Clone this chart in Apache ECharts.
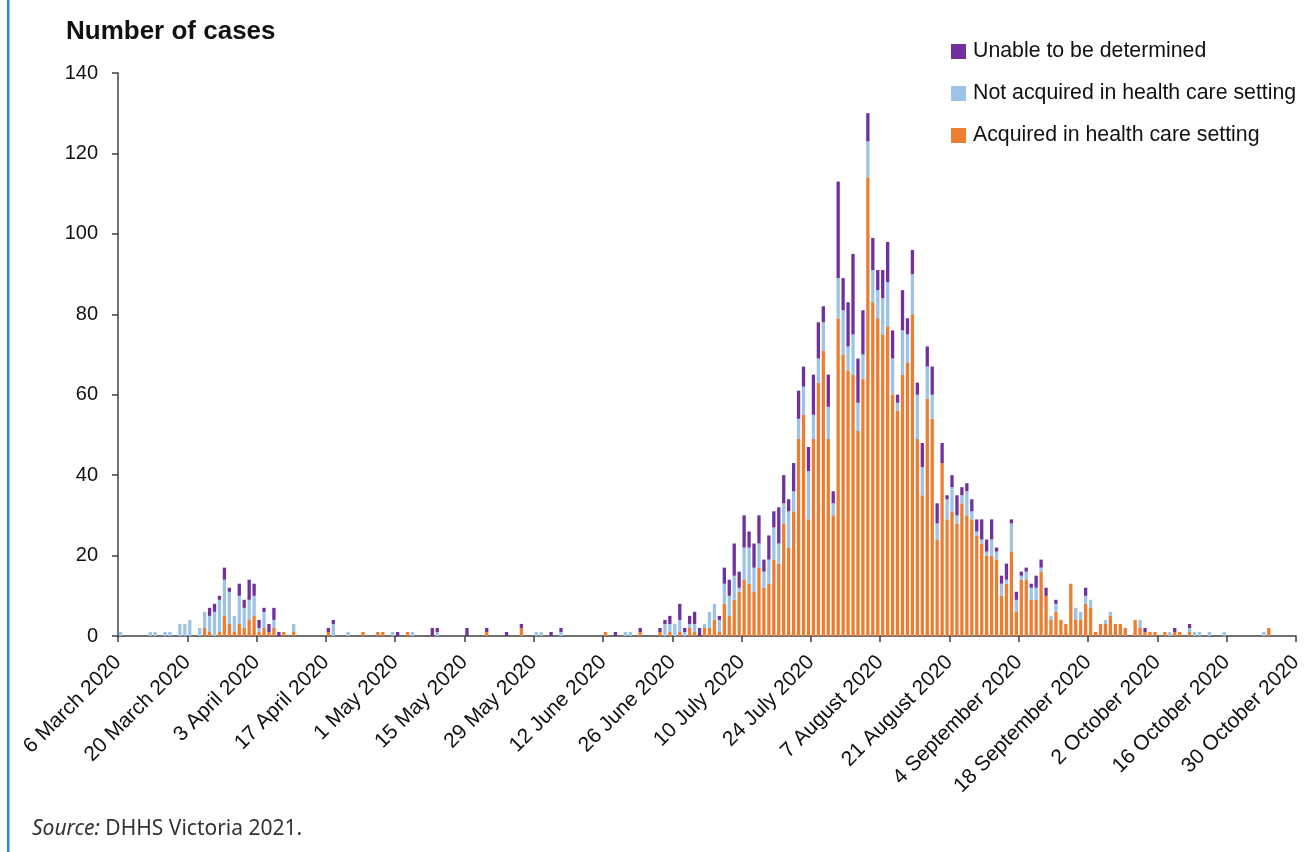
<!DOCTYPE html>
<html>
<head>
<meta charset="utf-8">
<script src="https://cdn.jsdelivr.net/npm/echarts@6/dist/echarts.min.js"></script>
<style>
html,body{margin:0;padding:0;background:#fff;}
#chart{width:1308px;height:852px;}
</style>
</head>
<body>
<div id="chart"></div>
<script>
// Day index 0 = 6 March 2020; one value per day (238 days)
const tickLabels = ['6 March 2020','20 March 2020','3 April 2020','17 April 2020','1 May 2020','15 May 2020','29 May 2020','12 June 2020','26 June 2020','10 July 2020','24 July 2020','7 August 2020','21 August 2020','4 September 2020','18 September 2020','2 October 2020','16 October 2020','30 October 2020'];

const acquired = [
 0,0,0,0,0,0,0,0,0,0,0,0,0,0,
 0,0,0,2,1,0,1,5,3,1,3,2,4,5,
 1,2,1,2,0,1,0,1,0,0,0,0,0,0,
 1,0,0,0,0,0,0,1,0,0,1,1,0,0,
 0,0,1,0,0,0,0,0,0,0,0,0,0,0,
 0,0,0,0,1,0,0,0,0,0,0,2,0,0,
 0,0,0,0,0,0,0,0,0,0,0,0,0,0,
 1,0,0,0,0,0,0,1,0,0,0,1,0,1,
 0,1,0,2,1,0,2,2,4,1,8,5,9,11,
 14,13,11,17,12,13,19,18,28,22,31,49,55,29,
 49,63,71,49,30,79,70,66,65,51,64,114,83,79,
 75,77,60,56,65,68,80,49,35,59,54,24,43,29,
 31,28,33,30,29,25,23,20,20,19,10,13,21,6,
 14,14,9,9,16,10,4,6,4,3,13,4,4,8,
 7,1,3,3,5,3,3,2,0,4,2,1,1,1,
 0,1,0,1,1,0,1,0,0,0,0,0,0,0,
 0,0,0,0,0,0,0,0,2,0,0,0,0,0
];
const notAcquired = [
 1,0,0,0,0,0,1,1,0,1,1,0,3,3,
 4,0,2,4,4,6,8,9,8,4,7,5,5,5,
 1,4,0,2,0,0,0,2,0,0,0,0,0,0,
 0,3,0,0,1,0,0,0,0,0,0,0,0,1,
 0,0,0,1,0,0,0,0,1,0,0,0,0,0,
 0,0,0,0,0,0,0,0,0,0,0,0,0,0,
 1,1,0,0,0,1,0,0,0,0,0,0,0,0,
 0,0,0,0,1,1,0,0,0,0,0,0,3,2,
 3,3,1,1,2,0,1,4,4,3,5,5,6,1,
 8,9,6,6,4,6,8,5,5,9,5,5,7,12,
 6,6,7,8,3,10,11,6,10,7,6,9,8,7,
 9,11,9,2,11,7,10,11,7,8,6,4,0,5,
 6,2,2,6,2,1,1,1,4,2,3,1,7,3,
 1,2,3,3,1,0,1,2,0,0,0,3,2,2,
 2,0,0,1,1,0,0,0,0,0,2,0,0,0,
 0,0,1,0,0,0,1,1,1,0,1,0,0,1,
 0,0,0,0,0,0,0,1,0,0,0,0,0,0
];
const unable = [
 0,0,0,0,0,0,0,0,0,0,0,0,0,0,
 0,0,0,0,2,2,1,3,1,0,3,2,5,3,
 2,1,2,3,1,0,0,0,0,0,0,0,0,0,
 1,1,0,0,0,0,0,0,0,0,0,0,0,0,
 1,0,0,0,0,0,0,2,1,0,0,0,0,0,
 2,0,0,0,1,0,0,0,1,0,0,1,0,0,
 0,0,0,1,0,1,0,0,0,0,0,0,0,0,
 0,0,1,0,0,0,0,1,0,0,0,1,1,2,
 0,4,1,2,3,2,0,0,0,1,4,4,8,4,
 8,4,6,7,3,6,4,9,7,3,7,7,5,6,
 10,9,4,8,3,24,8,11,20,11,11,7,8,5,
 7,10,7,2,10,4,6,3,6,5,7,5,5,1,
 3,5,2,2,3,3,5,3,5,1,2,4,1,2,
 1,1,1,3,2,2,0,1,0,0,0,0,0,2,
 0,0,0,0,0,0,0,0,0,0,0,1,0,0,
 0,0,0,1,0,0,1,0,0,0,0,0,0,0,
 0,0,0,0,0,0,0,0,0,0,0,0,0,0
];

const seriesNames = ['Acquired in health care setting','Not acquired in health care setting','Unable to be determined'];
const seriesColors = ['#ed7d31','#9dc3e6','#7030a0'];

const nDays = acquired.length;
const dayCategories = acquired.map((_, i) => 'd' + i);
const FONT = '"Liberation Sans", Arial, sans-serif';

const chart = echarts.init(document.getElementById('chart'), null, {renderer: 'canvas'});
chart.setOption({
  animation: false,
  backgroundColor: '#ffffff',
  title: {
    text: 'Number of cases',
    left: 61, top: 14,
    textStyle: {fontFamily: FONT, fontWeight: 'bold', fontSize: 26, color: '#111'}
  },
  legend: {
    orient: 'vertical',
    left: 946, top: 36,
    itemWidth: 15, itemHeight: 15,
    itemGap: 21,
    icon: 'rect',
    data: [seriesNames[2], seriesNames[1], seriesNames[0]],
    textStyle: {fontFamily: FONT, fontSize: 21.3, color: '#111', lineHeight: 21, padding: [0,0,0,2]}
  },
  grid: {left: 118, top: 73, width: 1178, height: 563, containLabel: false},
  xAxis: [
    {
      type: 'category',
      data: dayCategories,
      boundaryGap: true,
      axisLine: {show: false},
      axisTick: {show: false},
      axisLabel: {show: false},
      splitLine: {show: false}
    },
    {
      type: 'value',
      position: 'bottom',
      min: 0, max: nDays, interval: 14,
      splitLine: {show: false},
      axisLine: {show: true, onZero: false, lineStyle: {color: '#404040', width: 1.5}},
      axisTick: {show: true, length: 6, lineStyle: {color: '#404040', width: 1.5}},
      axisLabel: {
        rotate: 45, margin: 23,
        fontFamily: FONT, fontSize: 21, color: '#111',
        formatter: v => tickLabels[Math.round(v / 14)] || ''
      }
    }
  ],
  yAxis: {
    type: 'value',
    min: 0, max: 140, interval: 20,
    splitLine: {show: false},
    axisLine: {show: true, lineStyle: {color: '#404040', width: 1.5}},
    axisTick: {show: true, length: 6, lineStyle: {color: '#404040', width: 1.5}},
    axisLabel: {margin: 20, fontFamily: FONT, fontSize: 20, color: '#111'}
  },
  series: [acquired, notAcquired, unable].map((arr, k) => ({
    name: seriesNames[k],
    type: 'bar',
    xAxisIndex: 0,
    stack: 'cases',
    barWidth: 3.3,
    itemStyle: {color: seriesColors[k]},
    data: arr
  })),
  graphic: [
    {type: 'rect', left: 7, top: 0, shape: {width: 2.5, height: 852}, style: {fill: '#2c8bd0'}},
    {type: 'text', left: 32, top: 819, style: {
      text: '{i|Source:} DHHS Victoria 2021.',
      font: '21px "Noto Sans", "Open Sans", sans-serif',
      fill: '#333',
      rich: {i: {fontStyle: 'italic', fontFamily: '"Noto Sans", "Open Sans", sans-serif', fontSize: 21, fill: '#333'}}
    }}
  ]
});
</script>
</body>
</html>
